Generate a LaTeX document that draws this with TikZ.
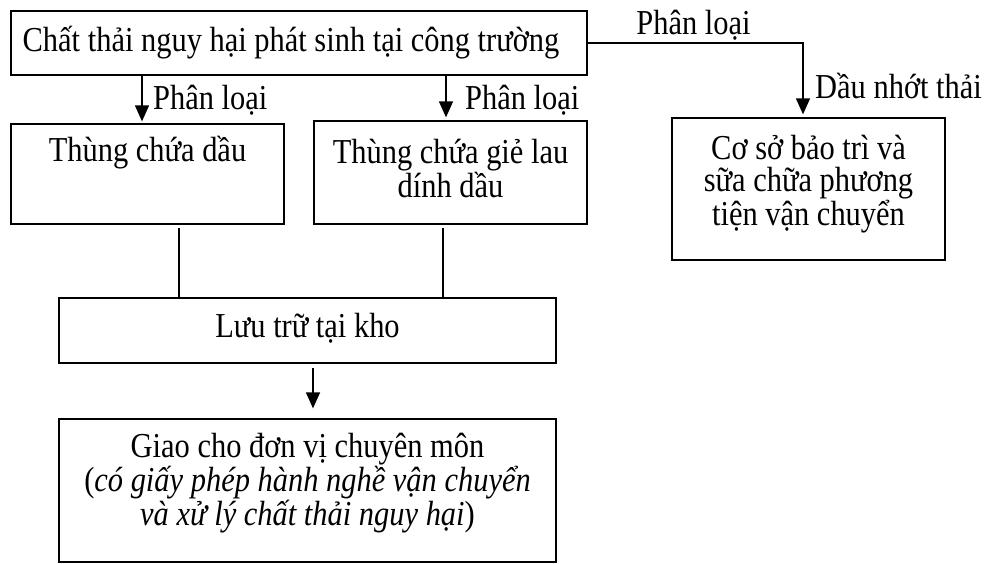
\documentclass[tikz,border=0pt]{standalone}
\usepackage{fontspec}
\setmainfont{Liberation Serif}[FakeStretch=0.87]
\usetikzlibrary{arrows.meta}
\begin{document}
\begin{tikzpicture}[x=1pt,y=-1pt,
  font=\fontsize{35}{32}\selectfont,
  box/.style={draw, line width=1.3pt, inner sep=0pt},
  txt/.style={align=center, inner sep=0pt},
  lbl/.style={inner sep=0pt},
  arr/.style={line width=1.3pt, -{Triangle[width=14pt,length=16pt]}},
  conn/.style={line width=1.3pt}]
\useasboundingbox (0,0) rectangle (990,563);

% boxes
\node[box, minimum width=576pt, minimum height=64pt] (top) at (299,43) {};
\node[txt] (ttop) at (291,43) {Chất thải nguy hại phát sinh tại công trường};

\node[box, minimum width=273pt, minimum height=100pt] (b1) at (147.5,174) {};
\node[txt] (t1) at (147.5,153) {Thùng chứa dầu};

\node[box, minimum width=273pt, minimum height=103pt] (b2) at (450.5,172.5) {};
\node[txt] (t2) at (450.5,168.5) {Thùng chứa giẻ lau\\dính dầu};

\node[box, minimum width=273pt, minimum height=142pt] (b3) at (808.5,189) {};
\node[txt] (t3) at (808.5,184) {Cơ sở bảo trì và\\sữa chữa phương\\tiện vận chuyển};

\node[box, minimum width=497pt, minimum height=65pt] (b4) at (307.5,330.5) {};
\node[txt] (t4) at (307.5,328) {Lưu trữ tại kho};

\node[box, minimum width=497pt, minimum height=143pt] (b5) at (307.5,490.5) {};
\node[txt] (t5) at (307.5,483) {Giao cho đơn vị chuyên môn\\(\textit{có giấy phép hành nghề vận chuyển}\\\textit{và xử lý chất thải nguy hại})};

% helper x positions
\coordinate (xa) at (142,0);
\coordinate (xb) at (446,0);
\coordinate (xc) at (803,0);
\coordinate (xd) at (179,0);
\coordinate (xe) at (443,0);
\coordinate (xf) at (313,0);

% connectors
\draw[arr] (top.south -| xa) -- ([yshift=2pt]b1.north -| xa);
\draw[arr] (top.south -| xb) -- ([yshift=3pt]b2.north -| xb);
\draw[arr] (top.east) -| ([yshift=3pt]b3.north -| xc);
\draw[conn] ([yshift=-3pt]b1.south -| xd) -- (b4.north -| xd);
\draw[conn] ([yshift=-3pt]b2.south -| xe) -- (b4.north -| xe);
\draw[arr] ([yshift=-4pt]b4.south -| xf) -- ([yshift=10pt]b5.north -| xf);

% labels
\node[lbl, anchor=west] (l1) at (153,100) {Phân loại};
\node[lbl, anchor=west] (l2) at (465,100) {Phân loại};
\node[lbl] (l3) at (693.5,25) {Phân loại};
\node[lbl, anchor=west] (l4) at (815,86) {Dầu nhớt thải};
\end{tikzpicture}
\end{document}
